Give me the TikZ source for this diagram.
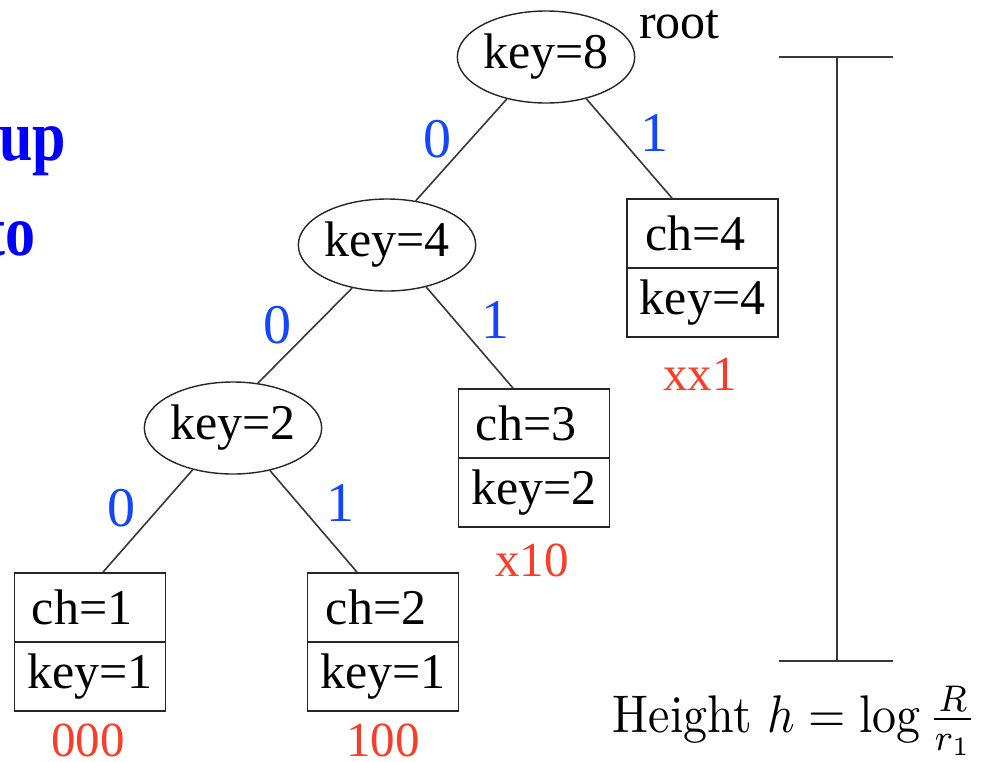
\documentclass[tikz,border=0pt]{standalone}
\usepackage{fontspec}
\usetikzlibrary{calc,shapes.geometric}
\newfontfamily\tms{Liberation Serif}
\definecolor{lblblue}{RGB}{20,70,255}
\definecolor{lblred}{RGB}{250,60,40}
\definecolor{edgegray}{RGB}{55,55,55}
\begin{document}
\begin{tikzpicture}[x=1pt,y=-1pt,
  keynode/.style={ellipse,draw=black!85,line width=1.4pt,minimum width=177pt,minimum height=92pt,inner sep=0pt,font=\tms\fontsize{50}{52}\selectfont},
  rowbox/.style={rectangle,draw=black!85,line width=1.8pt,minimum width=151pt,minimum height=69pt,inner sep=0pt,font=\tms\fontsize{50}{52}\selectfont},
  bitlbl/.style={text=lblblue,inner sep=0pt,font=\tms\fontsize{56}{60}\selectfont},
  codelbl/.style={text=lblred,inner sep=0pt,font=\tms\fontsize{49}{52}\selectfont},
  treeedge/.style={draw=edgegray,line width=1.6pt},
  hbar/.style={draw=edgegray,line width=2.5pt},
  bigword/.style={anchor=base east,inner sep=0pt,text=blue,yscale=1.2,font=\tms\bfseries\fontsize{60}{70}\selectfont}
]
\useasboundingbox (0,0) rectangle (982,761);

% key nodes
\node[keynode] (k8) at (546,57) {key=8};
\node[keynode] (k4) at (387,245) {key=4};
\node[keynode] (k2) at (233,428) {key=2};

% leaf boxes
\node[rowbox] (c4ch) at (702.5,233.5) {ch=4\kern14pt};
\node[rowbox] (c4key) at (702.5,302.5) {key=4};
\node[rowbox] (c3ch) at (534,423.5) {ch=3\kern16pt};
\node[rowbox] (c3key) at (534,492.5) {key=2};
\node[rowbox] (c1ch) at (90,607.5) {ch=1\kern16pt};
\node[rowbox] (c1key) at (90,676.5) {key=1};
\node[rowbox] (c2ch) at (383,607.5) {ch=2\kern14pt};
\node[rowbox] (c2key) at (383,676.5) {key=1};

% edges
\draw[treeedge] (k8.227) -- (k4.57);
\draw[treeedge] (k8.314) -- ($(c4ch.north)+(-30.5,0)$);
\draw[treeedge] (k4.231) -- (k2.61);
\draw[treeedge] (k4.313) -- ($(c3ch.north)+(-21,0)$);
\draw[treeedge] (k2.226) -- ($(c1ch.north)+(13,0)$);
\draw[treeedge] (k2.311) -- ($(c2ch.north)+(-26,0)$);

% bit labels
\node[bitlbl] (b1) at (437,139) {0};
\node[bitlbl] (b2) at (654,133) {1};
\node[bitlbl] (b3) at (277,325) {0};
\node[bitlbl] (b4) at (495,320) {1};
\node[bitlbl] (b5) at (121,508) {0};
\node[bitlbl] (b6) at (340,503) {1};

% code labels
\node[codelbl] (r1) at (700,374) {xx1};
\node[codelbl] (r2) at (532,560) {x10};
\node[codelbl] (r3) at (88,740) {000};
\node[codelbl] (r4) at (383,740) {100};

% root label
\node[anchor=base west,inner sep=0pt,font=\tms\fontsize{50}{52}\selectfont] (rt) at (639,38) {root};

% height bar
\coordinate (bt) at (837,57);
\coordinate (bb) at (837,661);
\draw[hbar] (bt) -- (bb);
\draw[hbar] ([xshift=-58pt]bt) -- ([xshift=56pt]bt);
\draw[hbar] ([xshift=-58pt]bb) -- ([xshift=56pt]bb);
\node[anchor=base west,inner sep=0pt,xscale=4.8,yscale=5.3] (hl) at (612,732) {Height $h=\log\frac{R}{r_1}$};

% cut-off words at left
\node[bigword] (w1) at (66,160) {up};
\node[bigword] (w2) at (36,255) {to};
\end{tikzpicture}
\end{document}
